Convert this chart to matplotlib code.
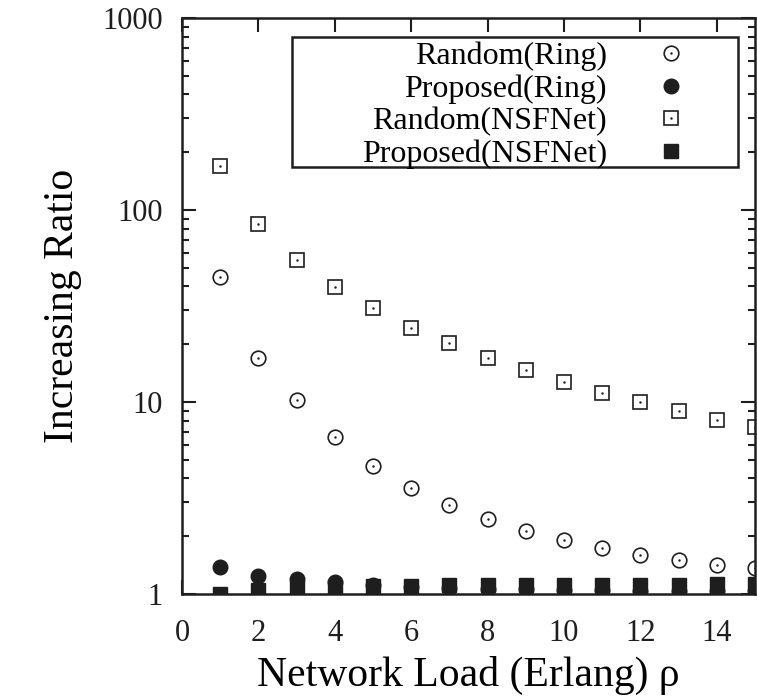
import matplotlib.pyplot as plt
import numpy as np
from matplotlib.patches import Rectangle

# network load (Erlang)
load = np.arange(1, 16)

random_ring = [44.7, 16.9, 10.2, 6.6, 4.64, 3.56, 2.9, 2.45, 2.14, 1.90, 1.73, 1.60, 1.51, 1.42, 1.37]
proposed_ring = [1.38, 1.24, 1.19, 1.15, 1.11, 1.09, 1.07, 1.06, 1.06, 1.05, 1.05, 1.04, 1.04, 1.04, 1.04]
random_nsf = [169, 84.5, 55, 39.9, 31, 24.3, 20.2, 17.0, 14.6, 12.7, 11.1, 10.0, 8.97, 8.07, 7.4]
proposed_nsf = [1.0, 1.045, 1.08, 1.09, 1.10, 1.10, 1.11, 1.11, 1.12, 1.12, 1.12, 1.12, 1.12, 1.13, 1.13]

plt.rcParams['font.family'] = 'Liberation Serif'

fig = plt.figure(figsize=(7.57, 6.98), dpi=100)
ax = fig.add_axes([182 / 757, 1 - 594 / 698, 573 / 757, 576 / 698])

k = '#1e1e1e'
l1, = ax.plot(load, random_ring, 'o', ms=10.5, mfc='white', mec=k, mew=1.2, ls='none')
l2, = ax.plot(load, proposed_ring, 'o', ms=10.5, mfc=k, mec=k, ls='none')
l3, = ax.plot(load, random_nsf, 's', ms=10, mfc='white', mec=k, mew=1.2, ls='none')
l4, = ax.plot(load, proposed_nsf, 's', ms=10, mfc=k, mec=k, ls='none')
# center dots of the open markers
d1, = ax.plot(load, random_ring, '.', ms=1.5, color=k, ls='none')
d3, = ax.plot(load, random_nsf, '.', ms=1.5, color=k, ls='none')

ax.set_yscale('log')
ax.set_xlim(0, 15)
ax.set_ylim(1, 1000)
ax.set_xticks(range(0, 15, 2))
ax.set_yticks([1, 10, 100, 1000])
ax.set_yticklabels(['1', '10', '100', '1000'])

for s in ax.spines.values():
    s.set_linewidth(1.8)
    s.set_color(k)
ax.tick_params(which='both', direction='in', top=True, right=True, colors=k, labelsize=22)
ax.tick_params(which='major', length=10, width=1.5)
ax.tick_params(which='minor', length=5, width=1.5)
ax.tick_params(axis='y', which='major', pad=14)
ax.tick_params(axis='x', which='major', pad=18)
ax.tick_params(axis='x', which='minor', bottom=False, top=False)

ax.set_xlabel('Network Load (Erlang) ρ', fontsize=30, labelpad=6)
ax.set_ylabel('Increasing Ratio', fontsize=30, labelpad=14)

# legend box (gnuplot style, wider than its entries)
ax.add_patch(Rectangle((0.192, 0.741), 0.778, 0.226, transform=ax.transAxes,
                       fill=False, ec=k, lw=1.8, zorder=5))
ax.legend([(l1, d1), l2, (l3, d3), l4],
          ['Random(Ring)', 'Proposed(Ring)', 'Random(NSFNet)', 'Proposed(NSFNet)'],
          loc='upper right', bbox_to_anchor=(0.970, 0.967), borderaxespad=0,
          markerfirst=False, fontsize=23, frameon=False,
          handlelength=3.9, handletextpad=0.05, labelspacing=0.1,
          borderpad=0.15, numpoints=1)

fig.savefig('out.png', dpi=100)
